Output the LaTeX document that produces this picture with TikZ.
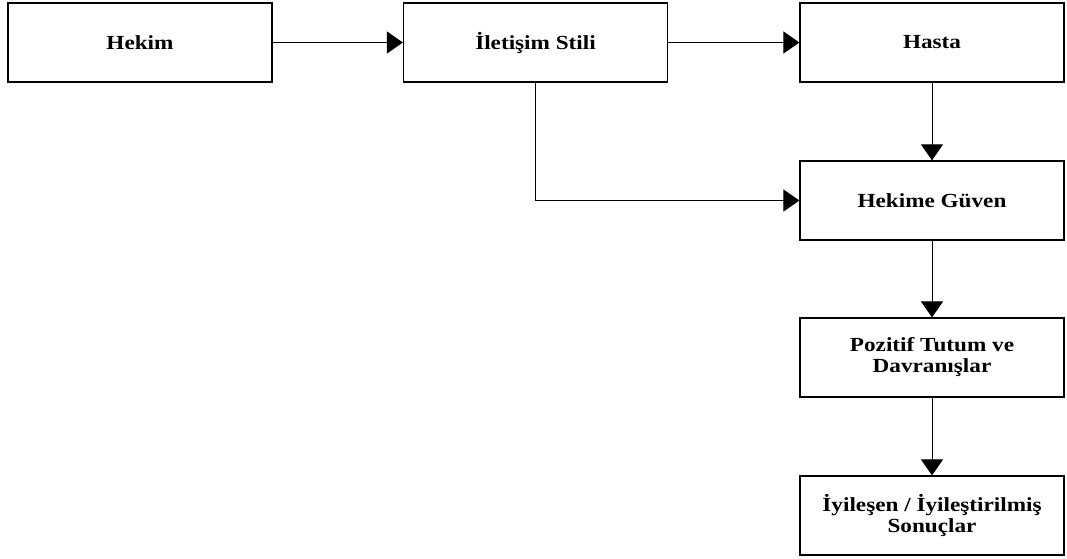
\documentclass[tikz,border=0pt]{standalone}
\usepackage{fontspec}
\setmainfont{Liberation Serif}[FakeStretch=1.16]
\usetikzlibrary{arrows.meta}

\begin{document}
\begin{tikzpicture}[
        x=1pt, y=-1pt,
        every node/.style={draw, line width=1.2pt, minimum width=264pt, minimum height=79pt,
            align=center, font=\fontsize{20}{21}\selectfont\bfseries, inner sep=0pt},
        flow/.style={line width=1pt, -{Triangle[length=16pt,width=22pt]}},
    ]
        \useasboundingbox (0,0) rectangle (1067,558);

        % Top row
        \node (hekim) at (140, 42.5) {Hekim};
        \node (iletisim) at (535.5, 42.5) {İletişim Stili};
        \node (hasta) at (932, 42.5) {Hasta};

        % Right column
        \node (guven) at (932, 200.5) {Hekime Güven};
        \node (pozitif) at (932, 357.5) {Pozitif Tutum ve\\Davranışlar};
        \node (sonuc) at (932, 515.5) {İyileşen / İyileştirilmiş\\Sonuçlar};

        % Arrows
        \draw[flow] (hekim) -- (iletisim);
        \draw[flow] (iletisim) -- (hasta);
        \draw[flow] (hasta) -- (guven);
        \draw[flow] (iletisim.south) |- (guven.west);
        \draw[flow] (guven) -- (pozitif);
        \draw[flow] (pozitif) -- (sonuc);
    \end{tikzpicture}
\end{document}
